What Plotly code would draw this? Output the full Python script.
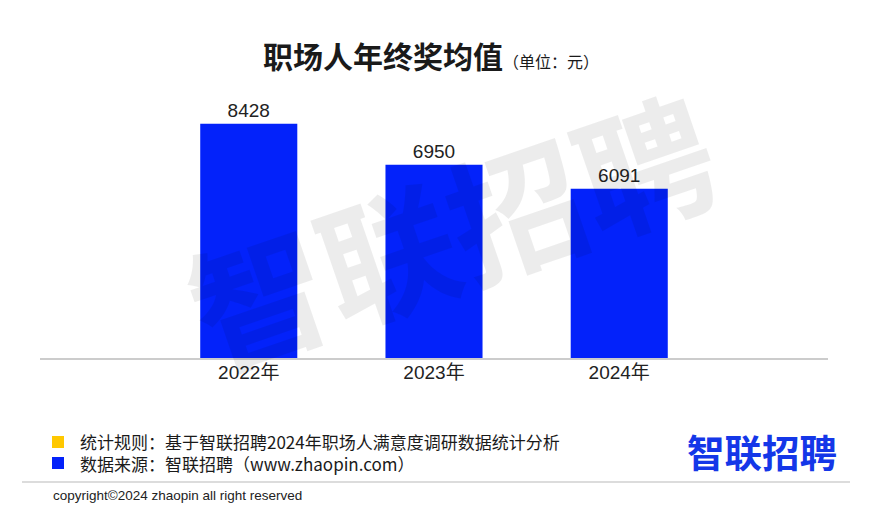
import plotly.graph_objects as go

categories = ["2022年", "2023年", "2024年"]
values = [8428, 6950, 6091]

title_main = "职场人年终奖均值"
title_unit = "（单位：元）"
note_rule = "统计规则：基于智联招聘2024年职场人满意度调研数据统计分析"
note_source = "数据来源：智联招聘（www.zhaopin.com）"
copyright_text = "copyright©2024 zhaopin all right reserved"
logo_text = "智联招聘"
watermark_text = "智联招聘"

BLUE = "#0322FA"
YELLOW = "#FFC800"
FONT = "Liberation Sans, Arial, Noto Sans CJK SC, sans-serif"
CJK = "Noto Sans CJK SC, Liberation Sans, sans-serif"

W, H = 870, 509
L, R, T, B = 40, 870 - 828, 80, 509 - 358
pw, ph = W - L - R, H - T - B


def px(x):
    return (x - L) / pw


def py(y):
    return (H - B - y) / ph


fig = go.Figure()
fig.add_trace(go.Bar(
    x=categories, y=values, marker=dict(color=BLUE, line=dict(width=0)),
    text=[str(v) for v in values], textposition="outside",
    textfont=dict(size=19, color="#222222", family=FONT),
    cliponaxis=False,
))

annotations = [
    dict(text=f"<b>{watermark_text}</b>", x=px(450), y=py(226), xref="paper", yref="paper", showarrow=False,
         xanchor="center", yanchor="middle", textangle=-19,
         font=dict(size=136, color="rgba(0,0,0,0.075)", family=CJK)),
    dict(text=f"<b>{title_main}</b><span style='font-size:16px'>{title_unit}</span>",
         x=px(431), y=py(55), xref="paper", yref="paper", showarrow=False,
         xanchor="center", yanchor="middle", font=dict(size=30, color="#1a1a1a", family=CJK)),
    dict(text=note_rule + "<br>" + note_source, x=px(78), y=py(452.5), xref="paper", yref="paper",
         showarrow=False, align="left",
         xanchor="left", yanchor="middle", font=dict(size=17, color="#1a1a1a", family=CJK)),
    dict(text=copyright_text, x=px(51), y=py(495), xref="paper", yref="paper", showarrow=False,
         xanchor="left", yanchor="middle", font=dict(size=13.5, color="#222222", family=FONT)),
    dict(text=f"<b>{logo_text}</b>", x=px(762), y=py(450), xref="paper", yref="paper", showarrow=False,
         xanchor="center", yanchor="middle", font=dict(size=37.5, color="#1437E8", family=CJK)),
]

shapes = [
    dict(type="rect", xref="paper", yref="paper", x0=px(52), x1=px(64), y0=py(448), y1=py(436),
         fillcolor=YELLOW, line=dict(width=0)),
    dict(type="rect", xref="paper", yref="paper", x0=px(52), x1=px(64), y0=py(469), y1=py(457),
         fillcolor=BLUE, line=dict(width=0)),
    dict(type="line", xref="paper", yref="paper", x0=px(22), x1=px(850), y0=py(482), y1=py(482),
         line=dict(color="#d0d0d0", width=1.5)),
]

fig.update_layout(
    width=W, height=H,
    margin=dict(l=L, r=R, t=T, b=B),
    paper_bgcolor="white", plot_bgcolor="white",
    showlegend=False,
    bargap=0.476,
    annotations=annotations,
    shapes=shapes,
    font=dict(family=FONT),
)
fig.update_xaxes(
    type="category", range=[-1.127, 3.127],
    showline=True, linecolor="#cccccc", linewidth=1.5,
    ticks="", showgrid=False, ticklabelstandoff=-4,
    tickfont=dict(size=19, color="#222222", family=FONT),
)
fig.update_yaxes(range=[0, 10000], visible=False, showgrid=False)

fig.write_html("out.html", config={"displayModeBar": False},
               post_script="document.body.style.margin='0';document.body.style.overflow='hidden';")
